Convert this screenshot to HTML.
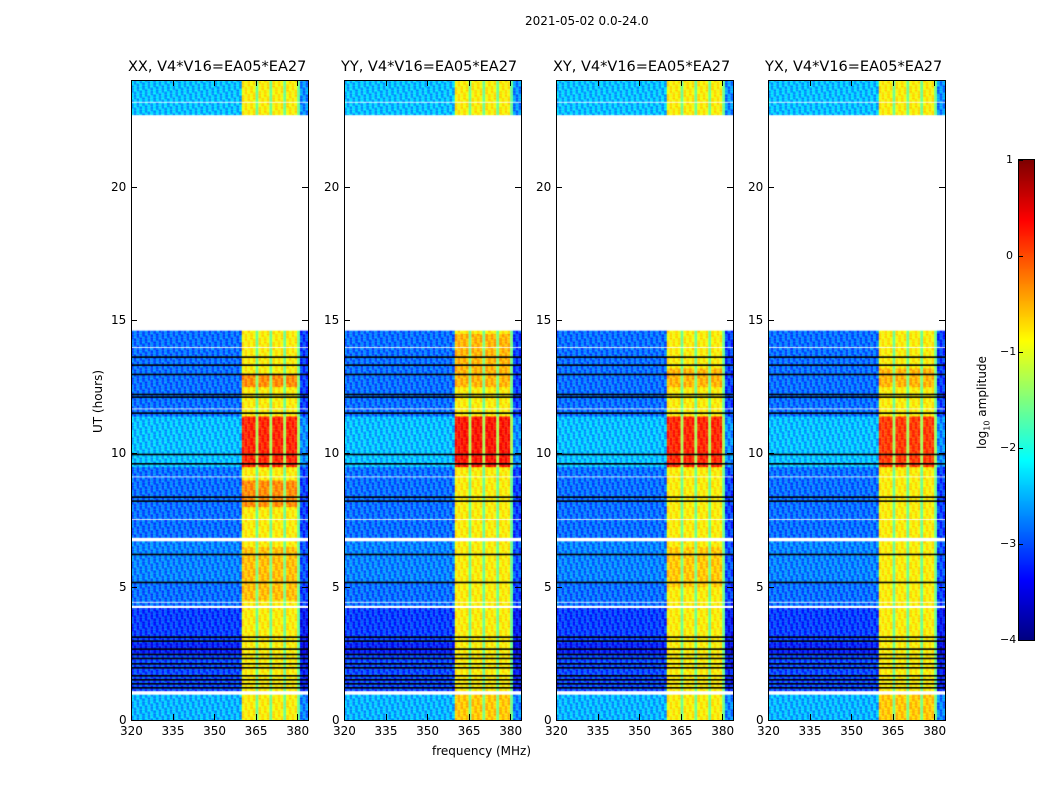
<!DOCTYPE html>
<html><head><meta charset="utf-8"><style>
body{margin:0;background:#fff;font-family:"DejaVu Sans","Liberation Sans",sans-serif;}
#root{position:relative;width:1050px;height:800px;overflow:hidden;}
.t{position:absolute;font-size:12px;color:#000;white-space:nowrap;}
.ttl{position:absolute;font-size:14.5px;white-space:nowrap;}
canvas{position:absolute;}
.frame{position:absolute;border:1px solid #000;box-sizing:border-box;}
.tk{position:absolute;background:#000;}
</style></head><body>
<div id="root">
<div class="t" style="left:525px;top:14px;font-size:12px">2021-05-02 0.0-24.0</div>
<div class="t" style="left:432px;top:744px">frequency (MHz)</div>
<div class="t" style="left:91px;top:433px;transform:rotate(-90deg);transform-origin:0 0">UT (hours)</div>
<canvas id="cb" width="15" height="480" style="left:1019px;top:160px"></canvas>
<div class="frame" style="left:1018px;top:159px;width:17px;height:482px"></div>
<div class="t" style="left:975px;top:449px;transform:rotate(-90deg);transform-origin:0 0">log<sub style="font-size:8px">10</sub> amplitude</div>
</div>
<script>
const panelTitles=["XX, V4*V16=EA05*EA27","YY, V4*V16=EA05*EA27","XY, V4*V16=EA05*EA27","YX, V4*V16=EA05*EA27"];
const panelLeft=[131,344,556,768];
const xTicks=[320,335,350,365,380];
const yTicks=[0,5,10,15,20];
const cbTicks=[1,0,-1,-2,-3,-4];
const freqBins=[];for(let f=320;f<384;f++)freqBins.push(f);
const bandStart=360,bandEnd=381;
const subLines=[365,370,375,380];
const bgLevel=-2.85, bandLevel=-0.8, subLineLevel=-1.6, edgeLevel=-3.1;
// fixed speckle texture offsets (cycled across cells)
const texture=[0.25,-0.3,0.1,-0.15,0.35,-0.25,0.0,0.2,-0.35,0.15,-0.05];
const whiteSegs=[[0.93,1.1],[4.18,4.3],[4.4,4.45],[6.72,6.85],[14.6,22.7],[23.15,23.22],[7.5,7.55],[9.1,9.15],[11.65,11.7],[13.95,14.0]];
const blackLines=[1.2,1.35,1.5,1.65,1.95,2.1,2.3,2.45,2.65,2.95,3.1,5.15,6.2,8.2,8.35,9.6,9.95,11.5,12.1,12.2,12.95,13.3,13.6];
const bandBoost=[
 [[9.5,11.4,1.0],[12.5,13.0,0.5],[8.0,9.0,0.5],[4.5,6.5,0.25]],
 [[9.5,11.4,1.1],[12.5,14.5,0.3],[0,1,0.2]],
 [[9.5,11.4,1.0],[12.5,13.2,0.3],[5,6.5,0.2]],
 [[9.5,11.4,0.9],[12.5,13.2,0.3],[0,1,0.2]]];
const bgBoost=[[9.5,11.4,0.4],[0,0.93,0.35],[5.2,6.7,0.1],[2.5,4.2,-0.25],[22.7,24,0.4],[1.1,2.9,-0.2]];
const y0=720,pxH=(720-80)/24,fx=(f)=>(f-320)*2.77;
function jet(v){let t=(v+4)/5;t=Math.max(0,Math.min(1,t));
 const r=Math.max(0,Math.min(1,1.5-Math.abs(4*t-3))),g=Math.max(0,Math.min(1,1.5-Math.abs(4*t-2))),b=Math.max(0,Math.min(1,1.5-Math.abs(4*t-1)));
 return `rgb(${r*255|0},${g*255|0},${b*255|0})`;}
const root=document.getElementById('root');
function addDiv(cls,style,name,txt){const d=document.createElement('div');d.className=cls;d.style.cssText=style;
 
 
 if(txt!==undefined)d.textContent=txt;root.appendChild(d);return d;}
const W=177,H=640,dt=0.05;
panelLeft.forEach((L,p)=>{
 const c=document.createElement('canvas');c.width=W;c.height=H;c.style.left=L+'px';c.style.top='80px';
 
 
 root.appendChild(c);const ctx=c.getContext('2d');
 let k=p;
 for(let h=0;h<24;h+=dt){
  const hm=h+dt/2;
  if(whiteSegs.some(s=>hm>=s[0]&&hm<s[1]))continue;
  let bb=0,gb=0;bandBoost[p].forEach(s=>{if(hm>=s[0]&&hm<s[1])bb+=s[2];});
  bgBoost.forEach(s=>{if(hm>=s[0]&&hm<s[1])gb+=s[2];});
  const yTop=H-(h+dt)*pxH;
  freqBins.forEach(f=>{
   let v;k++;
   const tx=texture[k%texture.length];
   if(f>=bandStart&&f<bandEnd){v=subLines.includes(f)?subLineLevel+bb*0.3:bandLevel+bb+tx*0.6;}
   else if(f>=bandEnd)v=edgeLevel+gb+tx;
   else v=bgLevel+gb+tx;
   ctx.fillStyle=jet(v);ctx.fillRect(fx(f),yTop,2.9,dt*pxH+0.5);
  });
 }
 ctx.fillStyle='#000';
 blackLines.forEach(b=>ctx.fillRect(0,H-b*pxH-1,W,1.6));
 addDiv('frame',`left:${L}px;top:80px;width:${W+1}px;height:${H+1}px`,'panel-frame-'+p);
 addDiv('ttl',`left:${L-3}px;top:59px`,'panel-title-'+p,panelTitles[p]);
 xTicks.forEach(f=>{const x=L+fx(f);
  addDiv('tk',`left:${x}px;top:714px;width:1px;height:6px`,'x-tick');
  addDiv('tk',`left:${x}px;top:80px;width:1px;height:6px`,'x-tick-top');
  addDiv('t',`left:${x-11}px;top:724px`,'x-tick-label',String(f));});
 yTicks.forEach(v=>{const y=y0-v*pxH;
  addDiv('tk',`left:${L}px;top:${y}px;width:6px;height:1px`,'y-tick');
  addDiv('tk',`left:${L+W-6}px;top:${y}px;width:6px;height:1px`,'y-tick-right');
  addDiv('t',`left:${L-(v>=10?20:12)}px;top:${y-7}px`,'y-tick-label',String(v));});
});
const cb=document.getElementById('cb').getContext('2d');
for(let i=0;i<480;i++){cb.fillStyle=jet(1-i*5/480);cb.fillRect(0,i,15,1);}
cbTicks.forEach(v=>{const y=160+(1-v)*96;
 addDiv('tk',`left:1019px;top:${y}px;width:4px;height:1px`,'colorbar-tick');
 addDiv('t',`left:${v<0?1000:1006}px;top:${y-7}px;font-size:11px`,'colorbar-tick-label',v<0?'\u2212'+(-v):String(v));});
</script>
</body></html>
